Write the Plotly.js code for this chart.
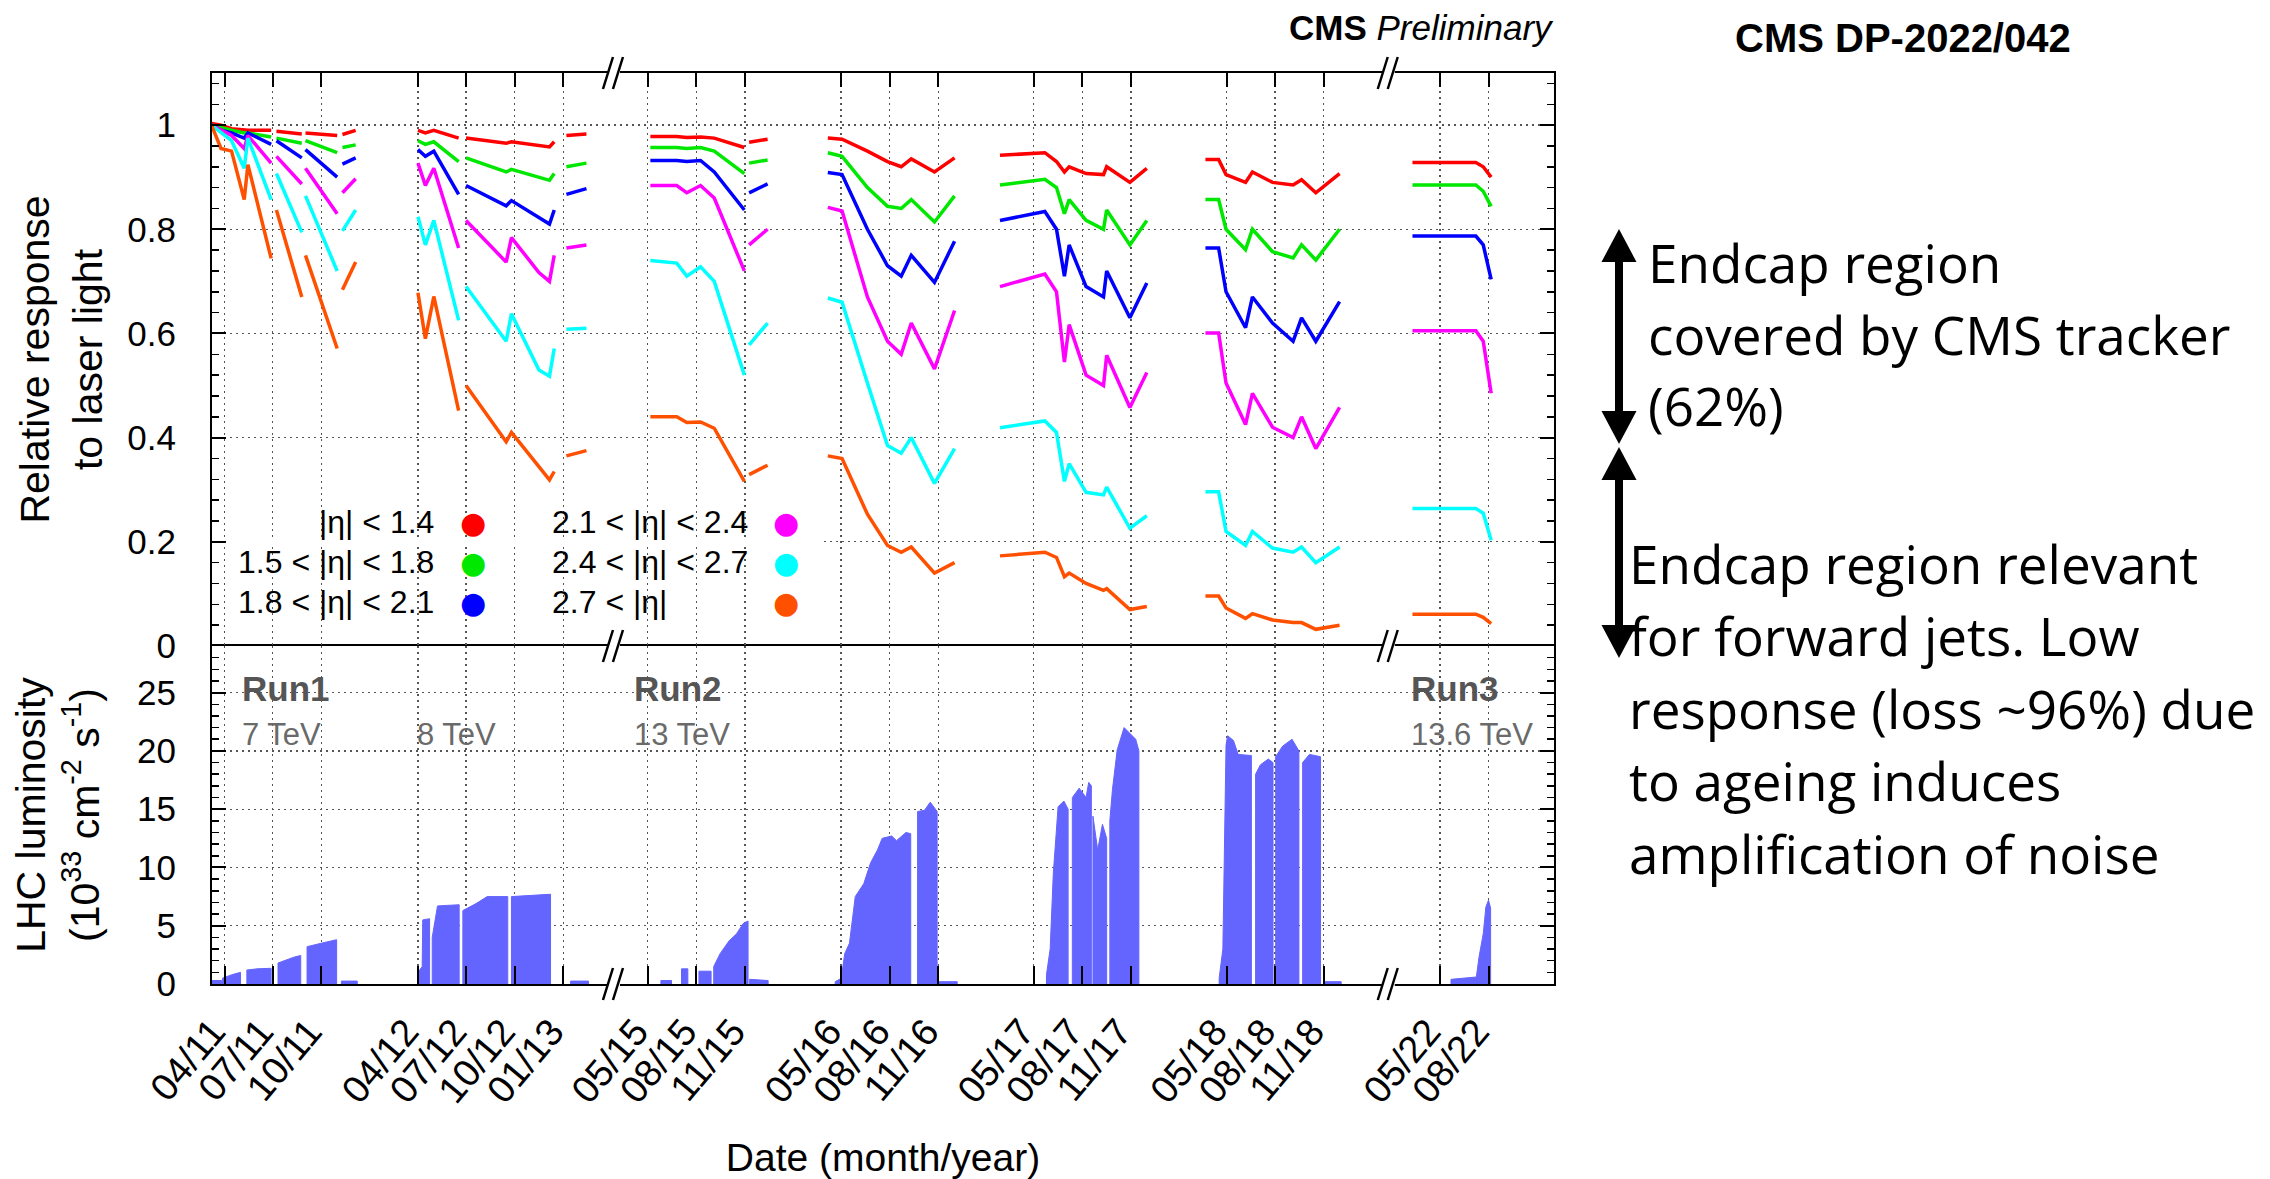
<!DOCTYPE html>
<html>
<head>
<meta charset="utf-8">
<script src="https://cdn.plot.ly/plotly-3.0.1.min.js"></script>
<style>html,body{margin:0;padding:0;background:#fff}#chart{width:2270px;height:1179px}</style>
</head>
<body>
<div id="chart"></div>
<script>
// ---------------- DATA ----------------
// Relative response to laser light: dates (null = gap between periods)
const respDates = [
  '2011-03-07','2011-03-25','2011-04-14','2011-05-08','2011-05-15','2011-06-28',null,'2011-07-08','2011-08-25',null,'2011-09-01','2011-10-31',null,'2011-11-10','2011-12-05',null,
  '2012-04-01','2012-04-15','2012-05-01','2012-06-17',null,'2012-07-01','2012-09-15','2012-09-25','2012-11-16','2012-12-06','2012-12-15',null,'2013-01-07','2013-02-14',null,
  '2015-05-06','2015-06-25','2015-07-14','2015-08-09','2015-09-04','2015-10-31',null,'2015-11-09','2015-12-14',null,
  '2016-04-06','2016-05-03','2016-06-20','2016-07-28','2016-08-23','2016-09-11','2016-10-25','2016-12-02',null,
  '2017-02-26','2017-05-22','2017-06-13','2017-06-28','2017-07-07','2017-08-08','2017-09-10','2017-09-16','2017-10-30','2017-12-01',null,
  '2018-03-22','2018-04-16','2018-04-30','2018-06-06','2018-06-19','2018-07-27','2018-09-04','2018-09-20','2018-10-17','2018-12-01',null,
  '2022-03-10','2022-07-08','2022-07-22','2022-08-06'
];
const respEtaBelow14 = [
  1.003,1.0,0.993,0.99,0.99,0.99,null,0.988,0.983,null,0.985,0.98,null,0.982,0.99,null,
  0.99,0.985,0.99,0.975,null,0.975,0.965,0.968,0.962,0.958,0.968,null,0.98,0.983,null,
  0.978,0.978,0.976,0.977,0.975,0.957,null,0.967,0.973,null,
  0.975,0.973,0.95,0.93,0.92,0.935,0.91,0.937,null,
  0.942,0.947,0.93,0.91,0.92,0.907,0.905,0.92,0.89,0.917,null,
  0.934,0.934,0.905,0.89,0.91,0.89,0.885,0.895,0.87,0.907,null,
  0.928,0.928,0.92,0.90
];
const respEta15to18 = [
  1.0,0.995,0.99,0.985,0.985,0.977,null,0.975,0.965,null,0.97,0.947,null,0.957,0.962,null,
  0.97,0.963,0.968,0.93,null,0.937,0.91,0.915,0.9,0.894,0.907,null,0.92,0.927,null,
  0.957,0.957,0.955,0.957,0.95,0.907,null,0.927,0.933,null,
  0.947,0.94,0.88,0.844,0.84,0.857,0.814,0.864,null,
  0.885,0.896,0.88,0.83,0.857,0.817,0.80,0.837,0.77,0.817,null,
  0.857,0.857,0.80,0.761,0.80,0.757,0.745,0.77,0.741,0.80,null,
  0.885,0.885,0.873,0.844
];
const respEta18to21 = [
  1.0,0.99,0.985,0.975,0.985,0.963,null,0.97,0.937,null,0.953,0.9,null,0.925,0.937,null,
  0.953,0.94,0.95,0.867,null,0.884,0.845,0.855,0.823,0.81,0.837,null,0.867,0.878,null,
  0.932,0.932,0.93,0.932,0.91,0.837,null,0.87,0.887,null,
  0.909,0.905,0.80,0.73,0.71,0.75,0.698,0.777,null,
  0.817,0.834,0.80,0.71,0.77,0.69,0.67,0.72,0.63,0.697,null,
  0.764,0.764,0.68,0.611,0.67,0.62,0.585,0.63,0.585,0.661,null,
  0.787,0.787,0.77,0.704
];
const respEta21to24 = [
  1.0,0.99,0.98,0.955,0.98,0.927,null,0.94,0.887,null,0.917,0.83,null,0.87,0.897,null,
  0.927,0.884,0.917,0.764,null,0.817,0.737,0.784,0.717,0.70,0.75,null,0.764,0.77,null,
  0.884,0.884,0.87,0.884,0.86,0.72,null,0.77,0.80,null,
  0.842,0.835,0.67,0.585,0.56,0.62,0.532,0.644,null,
  0.69,0.714,0.68,0.545,0.617,0.52,0.50,0.558,0.458,0.525,null,
  0.601,0.601,0.505,0.425,0.485,0.42,0.40,0.44,0.379,0.458,null,
  0.605,0.605,0.585,0.485
];
const respEta24to27 = [
  1.0,0.985,0.97,0.917,0.975,0.857,null,0.907,0.794,null,0.864,0.72,null,0.797,0.837,null,
  0.824,0.77,0.817,0.625,null,0.69,0.585,0.638,0.53,0.518,0.571,null,0.608,0.61,null,
  0.74,0.735,0.71,0.728,0.70,0.52,null,0.578,0.62,null,
  0.668,0.66,0.505,0.385,0.37,0.40,0.312,0.379,null,
  0.419,0.432,0.41,0.316,0.35,0.295,0.29,0.305,0.226,0.25,null,
  0.296,0.296,0.22,0.193,0.22,0.188,0.18,0.19,0.16,0.19,null,
  0.264,0.264,0.255,0.203
];
const respEtaAbove27 = [
  1.0,0.955,0.95,0.857,0.924,0.744,null,0.837,0.67,null,0.75,0.571,null,0.684,0.737,null,
  0.678,0.59,0.671,0.452,null,0.5,0.392,0.41,0.345,0.319,0.335,null,0.365,0.375,null,
  0.44,0.44,0.429,0.43,0.418,0.316,null,0.329,0.347,null,
  0.365,0.36,0.253,0.193,0.18,0.19,0.14,0.16,null,
  0.173,0.18,0.17,0.133,0.14,0.12,0.107,0.11,0.07,0.076,null,
  0.096,0.096,0.073,0.053,0.062,0.05,0.045,0.045,0.032,0.04,null,
  0.061,0.061,0.055,0.043
];
const seriesNames = ['|η| < 1.4','1.5 < |η| < 1.8','1.8 < |η| < 2.1','2.1 < |η| < 2.4','2.4 < |η| < 2.7','2.7 < |η|'];

// LHC instantaneous luminosity envelope (10^33 cm^-2 s^-1); null = gap between fill periods
const lumiDates = [
  '2011-03-08','2011-03-26',null,'2011-03-28','2011-04-15','2011-05-01',null,'2011-05-13','2011-06-01','2011-06-28',null,
  '2011-07-11','2011-08-10','2011-08-23',null,'2011-09-04','2011-10-01','2011-10-30',null,'2011-11-08','2011-12-08',null,
  '2012-04-01','2012-04-09','2012-04-10','2012-04-23',null,'2012-04-28','2012-05-08','2012-06-18',null,
  '2012-06-25','2012-07-20','2012-08-10','2012-09-18',null,'2012-09-25','2012-12-08',null,'2013-01-15','2013-02-18',null,
  '2015-05-26','2015-06-15',null,'2015-07-04','2015-07-16',null,'2015-08-06','2015-08-29',null,
  '2015-09-03','2015-09-15','2015-10-02','2015-10-16','2015-10-29','2015-11-07',null,'2015-11-10','2015-12-15',null,
  '2016-04-20','2016-05-02',null,
  '2016-05-03','2016-05-08','2016-05-17','2016-05-28','2016-06-13','2016-06-26','2016-07-09','2016-07-18','2016-08-05','2016-08-14','2016-09-01','2016-09-10',null,
  '2016-09-23','2016-10-06','2016-10-17','2016-10-30',null,'2016-11-01','2016-12-07',null,
  '2017-05-25','2017-06-01','2017-06-07','2017-06-16','2017-06-27','2017-07-05',null,
  '2017-07-13','2017-07-26','2017-08-08','2017-08-13','2017-08-18',null,
  '2017-08-21','2017-08-30','2017-09-08','2017-09-16',null,
  '2017-09-22','2017-09-27','2017-10-06','2017-10-19','2017-11-01','2017-11-10','2017-11-16',null,
  '2018-04-17','2018-04-24','2018-04-30','2018-05-03','2018-05-14','2018-05-23','2018-06-17',null,
  '2018-06-25','2018-07-04','2018-07-19','2018-07-28',null,
  '2018-08-02','2018-08-15','2018-09-02','2018-09-15',null,
  '2018-09-22','2018-10-05','2018-10-26',null,'2018-11-03','2018-12-04',null,
  '2022-05-22','2022-07-09','2022-07-14','2022-07-22','2022-07-27','2022-08-01','2022-08-05'
];
const lumiPeak = [
  0.3,0.3,null,0.5,0.8,1.0,null,1.2,1.3,1.35,null,
  1.8,2.3,2.45,null,3.2,3.5,3.8,null,0.25,0.25,null,
  1.0,1.5,5.5,5.6,null,4.0,6.7,6.8,null,
  6.3,6.9,7.5,7.5,null,7.5,7.7,null,0.25,0.25,null,
  0.3,0.3,null,1.3,1.3,null,1.1,1.1,null,
  1.5,2.6,3.7,4.3,5.2,5.4,null,0.4,0.3,null,
  0.2,0.5,null,
  1.0,2.6,3.5,7.5,8.6,10.4,11.5,12.5,12.7,12.3,13.0,12.9,null,
  14.8,14.9,15.6,14.8,null,0.2,0.2,null,
  0.8,3.0,9.5,15.2,15.7,15.0,null,
  16.0,16.8,16.0,17.3,17.0,null,
  14.4,11.5,13.7,12.5,null,
  14.0,16.7,20.1,22.0,21.4,21.0,20.0,null,
  0.5,3.0,20.5,21.3,20.9,19.7,19.6,null,
  18.0,18.8,19.3,19.0,null,
  19.5,20.4,21.0,20.0,null,
  19.0,19.7,19.5,null,0.2,0.2,null,
  0.4,0.6,2.3,4.3,6.6,7.2,6.5
];

// x tick positions (first of month)
const tickDates = ['2011-04-01','2011-07-01','2011-10-01','2012-04-01','2012-07-01','2012-10-01','2013-01-01',
  '2015-05-01','2015-08-01','2015-11-01','2016-05-01','2016-08-01','2016-11-01',
  '2017-05-01','2017-08-01','2017-11-01','2018-05-01','2018-08-01','2018-11-01','2022-05-01','2022-08-01'];
const breakBounds = [['2013-04-10','2015-03-01'],['2019-03-07','2022-01-27']];

// ---------------- STYLE / LAYOUT ----------------
const colors = ['#ff0000','#00e800','#0000ff','#ff00ff','#00ffff','#ff5000'];
const lumiColor = '#6464ff';
const FONT = 'Liberation Sans, Arial, Helvetica, sans-serif';
const TXT = 'Open Sans, Noto Sans, sans-serif';

const L = 212, R = 1554, T = 73, B = 984, W = 2270, H = 1179;
const px = x => (x - L) / (R - L);
const py = y => (B - y) / (B - T);
const split = py(646);

// closed polygons (one per fill period) built from the luminosity envelope
function toBlocks(dates, vals) {
  const X = [], Y = [];
  let seg = [];
  const flush = () => {
    if (seg.length) {
      X.push(seg[0][0]); Y.push(0);
      seg.forEach(p => { X.push(p[0]); Y.push(p[1]); });
      X.push(seg[seg.length - 1][0]); Y.push(0);
      X.push(null); Y.push(null);
    }
    seg = [];
  };
  dates.forEach((d, i) => { if (d === null || vals[i] === null) flush(); else seg.push([d, vals[i]]); });
  flush();
  return {X, Y};
}
const lumiPoly = toBlocks(lumiDates, lumiPeak);

const allValues = [respEtaBelow14, respEta15to18, respEta18to21, respEta21to24, respEta24to27, respEtaAbove27];
const traces = allValues.map((vals, i) => ({
  type: 'scatter', mode: 'lines', x: respDates, y: vals, xaxis: 'x2', yaxis: 'y',
  name: seriesNames[i], showlegend: false, connectgaps: false,
  line: {color: colors[i], width: 3.5}
}));
traces.push({
  type: 'scatter', mode: 'lines', x: lumiPoly.X, y: lumiPoly.Y, xaxis: 'x', yaxis: 'y2',
  name: 'LHC luminosity', showlegend: false, connectgaps: false,
  fill: 'toself', fillcolor: lumiColor, line: {color: lumiColor, width: 1}
});

const tickText = tickDates.map(d => d.slice(5, 7) + '/' + d.slice(2, 4));
const grid = {showgrid: true, gridcolor: '#555', griddash: '2px,4px', gridwidth: 1.3};
const xCommon = Object.assign({
  type: 'date', range: ['2011-03-08', '2022-12-03'],
  rangebreaks: breakBounds.map(b => ({bounds: b})),
  tickmode: 'array', tickvals: tickDates, ticktext: tickText,
  showline: true, linecolor: 'black', linewidth: 2, zeroline: false,
  ticks: 'inside', tickcolor: 'black', tickwidth: 2
}, grid);
const yCommon = Object.assign({
  showline: true, linecolor: 'black', linewidth: 2, zeroline: false, mirror: 'ticks',
  ticks: 'inside', ticklen: 14, tickwidth: 2, tickcolor: 'black',
  tickfont: {size: 35, color: 'black', family: FONT}, ticklabelstandoff: 27
}, grid);

const layout = {
  width: W, height: H, paper_bgcolor: 'white', plot_bgcolor: 'white',
  margin: {l: L, r: W - R, t: T, b: H - B}, hovermode: false,
  font: {family: FONT, color: 'black'},
  xaxis: Object.assign({}, xCommon, {
    anchor: 'y2', side: 'bottom', mirror: true, ticklen: 18, tickangle: -50,
    tickfont: {size: 38, color: 'black', family: FONT}, ticklabelstandoff: 8, ticklabelshift: -12,
    title: {text: 'Date (month/year)', font: {size: 39, color: 'black', family: FONT}, standoff: 38}
  }),
  xaxis2: Object.assign({}, xCommon, {anchor: 'y', side: 'top', ticklen: 14, showticklabels: false}),
  yaxis: Object.assign({}, yCommon, {
    domain: [split, 1], anchor: 'x2', range: [0, 1.1], tick0: 0, dtick: 0.2,
    minor: {ticks: 'inside', ticklen: 7, tickwidth: 1.5, tickcolor: 'black', dtick: 0.04, tick0: 0, showgrid: false},
    title: {text: 'Relative response<br>to laser light', font: {size: 41, color: 'black', family: FONT}, standoff: 12}
  }),
  yaxis2: Object.assign({}, yCommon, {
    domain: [0, split], anchor: 'x', range: [0, 29], tick0: 0, dtick: 5,
    minor: {ticks: 'inside', ticklen: 7, tickwidth: 1.5, tickcolor: 'black', dtick: 1, tick0: 0, showgrid: false},
    title: {text: 'LHC luminosity<br>(10<sup>33</sup> cm<sup>-2</sup> s<sup>-1</sup>)', font: {size: 41, color: 'black', family: FONT}, standoff: 25}
  }),
  shapes: [], annotations: []
};

// white strip hiding the 0.2 grid line behind the legend
layout.shapes.push({type: 'rect', xref: 'x2', yref: 'y', x0: '2011-03-09', x1: '2016-03-24',
  y0: 0.196, y1: 0.204, fillcolor: 'white', line: {width: 0}, layer: 'between'});

// double arrows on the right
const ax = 1619, hw = 17.5;
function tri(tipY, baseY) {
  return 'M' + px(ax) + ',' + py(tipY) + ' L' + px(ax - hw) + ',' + py(baseY) + ' L' + px(ax + hw) + ',' + py(baseY) + ' Z';
}
[[229, 444], [447, 658]].forEach(([top, bot]) => {
  layout.shapes.push({type: 'line', xref: 'paper', yref: 'paper', x0: px(ax), x1: px(ax), y0: py(top + 25), y1: py(bot - 25), line: {color: 'black', width: 8}});
  layout.shapes.push({type: 'path', xref: 'paper', yref: 'paper', path: tri(top, top + 33), fillcolor: 'black', line: {width: 0}});
  layout.shapes.push({type: 'path', xref: 'paper', yref: 'paper', path: tri(bot, bot - 33), fillcolor: 'black', line: {width: 0}});
});

// axis-break "//" markers
const breakAnchors = ['2013-04-09', '2019-03-06'];
[0, split, 1].forEach(yv => {
  breakAnchors.forEach(d => {
    const base = {xref: 'x', yref: 'paper', xsizemode: 'pixel', ysizemode: 'pixel', xanchor: d, yanchor: yv, layer: 'above'};
    layout.shapes.push(Object.assign({type: 'rect', x0: -7, x1: 5, y0: -3, y1: 3, fillcolor: 'white', line: {width: 0}}, base));
    layout.shapes.push(Object.assign({type: 'line', x0: -12, x1: -2, y0: -16, y1: 16, line: {color: 'black', width: 2.5}}, base));
    layout.shapes.push(Object.assign({type: 'line', x0: -2, x1: 8, y0: -16, y1: 16, line: {color: 'black', width: 2.5}}, base));
  });
});

function ann(x, y, text, opts) {
  layout.annotations.push(Object.assign({xref: 'paper', yref: 'paper', x: px(x), y: py(y), text: text,
    showarrow: false, xanchor: 'left', yanchor: 'middle'}, opts));
}
// legend (text + coloured dot): left column right-aligned, right column left-aligned
const legRows = [522, 562, 602];
seriesNames.forEach((n, i) => {
  const col = Math.floor(i / 3), r = legRows[i % 3];
  if (col === 0) ann(436, r, n, {xanchor: 'right', font: {size: 32, color: 'black', family: FONT}});
  else ann(550, r, n, {xanchor: 'left', font: {size: 32, color: 'black', family: FONT}});
  ann(col === 0 ? 473 : 786, r, '●', {xanchor: 'center', font: {size: 30, color: colors[i], family: 'DejaVu Sans'}});
});

// run / energy labels
const runFont = {size: 35, color: '#555', family: FONT};
const eFont = {size: 31, color: '#6a6a6a', family: FONT};
ann(240, 688, '<b>Run1</b>', {font: runFont});
ann(240, 734, '7 TeV', {font: eFont});
ann(415, 734, '8 TeV', {font: eFont});
ann(632, 688, '<b>Run2</b>', {font: runFont});
ann(632, 734, '13 TeV', {font: eFont});
ann(1409, 688, '<b>Run3</b>', {font: runFont});
ann(1409, 734, '13.6 TeV', {font: eFont});

// CMS labels
ann(1556, 28, '<b>CMS</b> <i>Preliminary</i>', {xanchor: 'right', font: {size: 35, color: 'black', family: FONT}});
ann(1903, 38, '<b>CMS DP-2022/042</b>', {xanchor: 'center', font: {size: 40, color: 'black', family: FONT}});

// right-hand explanations
const noteFont = {size: 53, color: 'black', family: TXT};
['Endcap region', 'covered by CMS tracker', '(62%)'].forEach((t, i) => ann(1646, 262 + i * 72, t, {font: noteFont}));
['Endcap region relevant', 'for forward jets. Low', 'response (loss ~96%) due', 'to ageing induces', 'amplification of noise']
  .forEach((t, i) => ann(1627, 563 + i * 72.5, t, {font: noteFont}));

Plotly.newPlot('chart', traces, layout, {displayModeBar: false, staticPlot: true});
</script>
</body>
</html>
